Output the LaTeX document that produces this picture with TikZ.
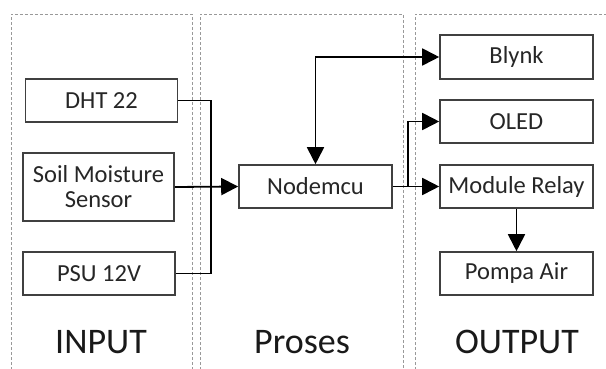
\documentclass[tikz,border=0pt]{standalone}
\usepackage{fontspec}
\setmainfont{Carlito}
\usetikzlibrary{arrows.meta}
\begin{document}
\begin{tikzpicture}[x=1pt,y=-1pt,
  panel/.style={draw=black!40,dash pattern=on 3pt off 2pt,line width=0.9pt},
  blk/.style={draw=black!75,line width=1.6pt,minimum width=153pt,inner sep=0pt,font=\fontsize{24.5}{26}\selectfont,text=black!85,align=center},
  conn/.style={draw=black,line width=1.8pt},
  tip/.tip={Triangle[length=17pt,width=17pt]},
  arr/.style={conn,-tip},
  title/.style={font=\fontsize{36}{38}\selectfont,text=black!90}]
\useasboundingbox (0,0) rectangle (606,369);
\clip (0,0) rectangle (606,369);
\fill[white] (0,0) rectangle (606,369);
% panels
\draw[panel] (11,380) -- (11,14) -- (192,14) -- (192,380);
\draw[panel] (200,380) -- (200,14) -- (403,14) -- (403,380);
\draw[panel] (415,380) -- (415,14) -- (620,14);
% input boxes
\node[blk,minimum height=43pt,minimum width=152pt] (dht) at (101.5,100.5) {DHT 22};
\node[blk,minimum height=68pt,minimum width=151pt] (soil) at (98.5,187) {Soil Moisture\\[-1pt]Sensor};
\node[blk,minimum height=43pt,minimum width=152pt] (psu) at (99,273.5) {PSU 12V};
% process
\node[blk,minimum height=43pt] (mcu) at (315.5,186.5) {Nodemcu};
% output boxes
\node[blk,minimum height=44pt] (blynk) at (516.5,57) {Blynk};
\node[blk,minimum height=43pt] (oled) at (516.5,121.5) {OLED};
\node[blk,minimum height=43pt] (relay) at (516.5,186.5) {Module Relay};
\node[blk,minimum height=43pt] (pompa) at (516.5,273.5) {Pompa Air};
% titles
\node[title] (tin) at (101,342) {INPUT};
\node[title] (tpr) at (302,342) {Proses};
\node[title] (tout) at (517,342) {OUTPUT};
% connectors
\coordinate (bustop) at (211,100.5);
\coordinate (busbot) at (211,273.5);
\draw[conn] (dht.east) -- (bustop) -- (busbot) -- (psu.east);
\draw[arr] (soil.east) -- (mcu.west);
\draw[conn,tip-tip] (mcu.north) |- (blynk.west);
\coordinate (split) at (408,186.5);
\draw[conn] (mcu.east) -- (split);
\draw[arr] (split) |- (oled.west);
\draw[arr] (split) -- (relay.west);
\draw[arr] (relay.south) -- (pompa.north);
\end{tikzpicture}
\end{document}
